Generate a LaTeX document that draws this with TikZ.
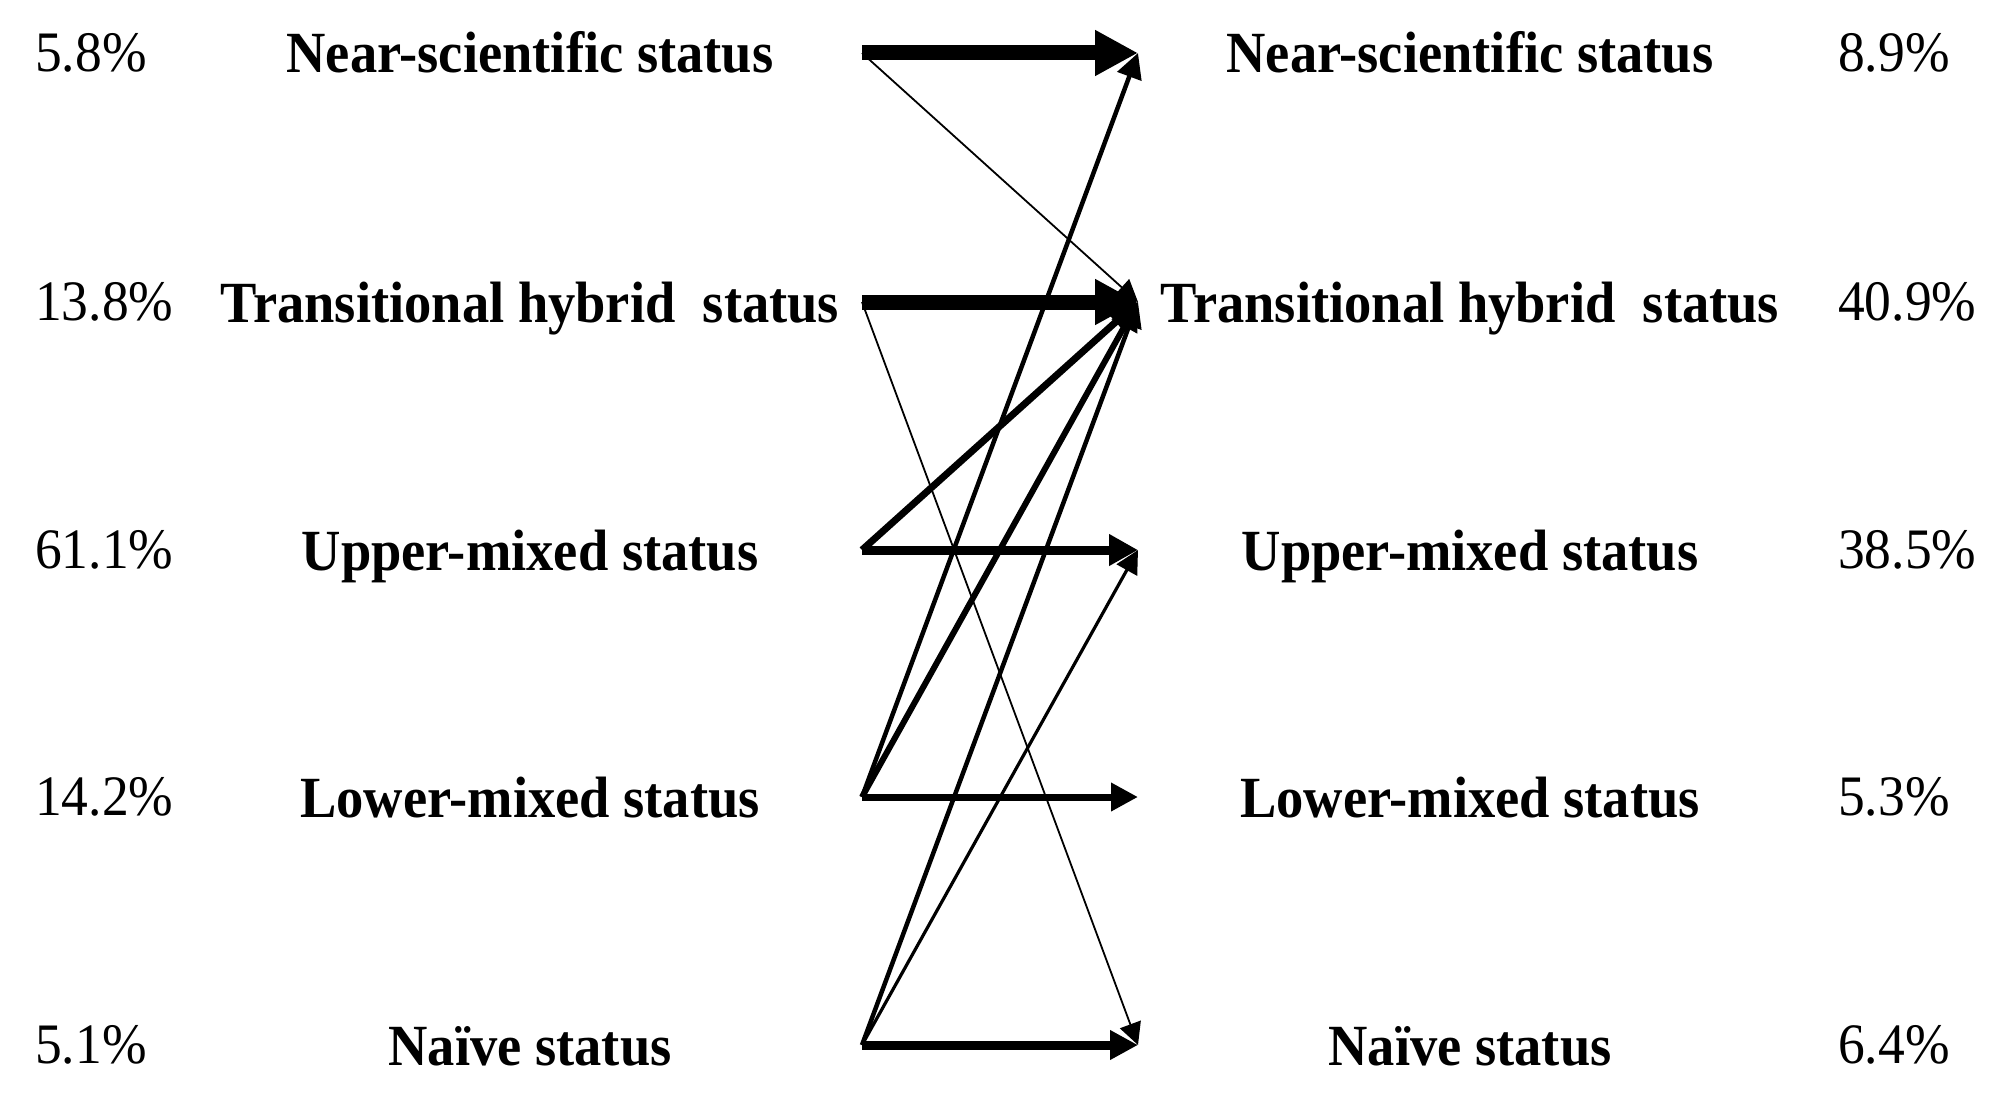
\documentclass[tikz,border=0pt]{standalone}
\usepackage{fontspec}
\setmainfont{Liberation Serif}
\usetikzlibrary{arrows.meta}
\tikzset{
  lab/.style={inner sep=0pt, anchor=base, font=\fontsize{54.5pt}{60pt}\selectfont\bfseries},
  pct/.style={inner sep=0pt, anchor=base west, font=\fontsize{53.5pt}{60pt}\selectfont},
  flow/.style={draw=black, line cap=butt},
}
\newcommand{\tallt}[1]{\scalebox{1}[1.07]{#1}}
\newcommand{\flowarrow}[5]{%
  \draw[flow, line width=#3pt, -{Triangle[length=#4pt,width=#5pt]}] (#1) -- (#2);}
\begin{document}
\begin{tikzpicture}[x=1pt,y=-1pt]
\useasboundingbox (0,0) rectangle (2016,1116);
\fill[white] (0,0) rectangle (2016,1116);
% row positions
\foreach \n/\yy in {1/53,2/302,3/550,4/797,5/1045}{
  \coordinate (s\n) at (862,\yy);
  \coordinate (e\n) at (1138,\yy);
}
% left labels
\node[lab] (L1) at (530,73) {\tallt{Near-scientific status}};
\node[lab] (L2) at (530,322) {\tallt{Transitional hybrid~~status}};
\node[lab] (L3) at (530,570) {\tallt{Upper-mixed status}};
\node[lab] (L4) at (530,817) {\tallt{Lower-mixed status}};
\node[lab] (L5) at (530,1065) {\tallt{Naïve status}};
% right labels
\node[lab] (R1) at (1470,73) {\tallt{Near-scientific status}};
\node[lab] (R2) at (1470,322) {\tallt{Transitional hybrid~~status}};
\node[lab] (R3) at (1470,570) {\tallt{Upper-mixed status}};
\node[lab] (R4) at (1470,817) {\tallt{Lower-mixed status}};
\node[lab] (R5) at (1470,1065) {\tallt{Naïve status}};
% left percentages
\node[pct] (P1) at (35,71) {\tallt{5.8\%}};
\node[pct] (P2) at (35,320) {\tallt{13.8\%}};
\node[pct] (P3) at (35,568) {\tallt{61.1\%}};
\node[pct] (P4) at (35,815) {\tallt{14.2\%}};
\node[pct] (P5) at (35,1063) {\tallt{5.1\%}};
% right percentages
\node[pct] (Q1) at (1838,71) {\tallt{8.9\%}};
\node[pct] (Q2) at (1838,320) {\tallt{40.9\%}};
\node[pct] (Q3) at (1838,568) {\tallt{38.5\%}};
\node[pct] (Q4) at (1838,815) {\tallt{5.3\%}};
\node[pct] (Q5) at (1838,1063) {\tallt{6.4\%}};
% flows
\flowarrow{s2}{e5}{1.8}{22}{22}
\flowarrow{s1}{e2}{1.8}{22}{22}
\flowarrow{s5}{e3}{3.2}{23}{23}
\flowarrow{s5}{e2}{4.5}{25}{25}
\flowarrow{s4}{e1}{4.5}{25}{25}
\flowarrow{s4}{e2}{6}{28}{28}
\flowarrow{s3}{e2}{7}{30}{30}
\flowarrow{s4}{e4}{7}{27}{27}
\flowarrow{s5}{e5}{9}{28}{28}
\flowarrow{s3}{e3}{9}{29}{30}
\flowarrow{s1}{e1}{15}{43}{43}
\flowarrow{s2}{e2}{15}{43}{43}
\end{tikzpicture}
\end{document}
